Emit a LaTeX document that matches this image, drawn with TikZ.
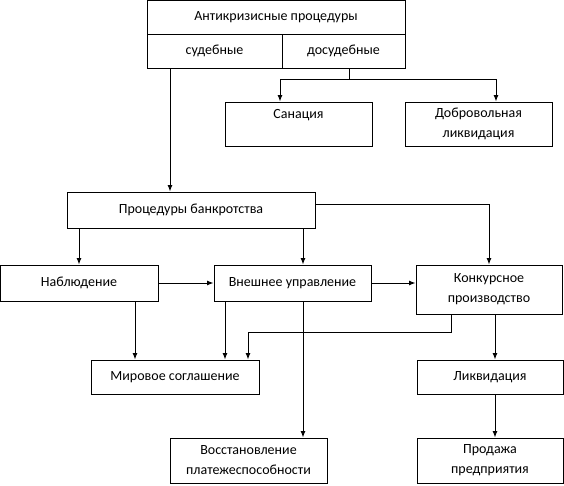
\documentclass[tikz,border=0pt]{standalone}
\usepackage{fontspec}
\setmainfont{Carlito}
\usetikzlibrary{arrows.meta}
\begin{document}
\begin{tikzpicture}[x=1pt,y=-1pt,line cap=rect,line join=miter]
  \tikzset{box/.style={draw,line width=1pt,rectangle,inner sep=0pt,align=center,font=\fontsize{14}{20}\selectfont},
    ln/.style={line width=1pt},
    arr/.style={line width=1pt,-{Latex[length=6.5pt,width=5pt]}}}
  \useasboundingbox (0,0) rectangle (564,485);
  \node[box,minimum width=258,minimum height=34] (title) at (276,17) {Антикризисные процедуры};
  \node[box,minimum width=135,minimum height=34] (sud) at (214.5,51) {судебные};
  \node[box,minimum width=123,minimum height=34] (dosud) at (343.5,51) {досудебные};
  \node[box,minimum width=147,minimum height=44,text depth=21pt] (sanac) at (298.5,124) {Санация};
  \node[box,minimum width=147,minimum height=44] (dobr) at (478.5,124) {Добровольная\\ликвидация};
  \node[box,minimum width=248,minimum height=36] (bankr) at (191,210) {Процедуры банкротства};
  \node[box,minimum width=158,minimum height=36] (nabl) at (79,283) {Наблюдение};
  \node[box,minimum width=157,minimum height=36] (vnesh) at (292.5,283) {Внешнее управление};
  \node[box,minimum width=146,minimum height=49] (konk) at (489,289.5) {Конкурсное\\производство};
  \node[box,minimum width=168,minimum height=34] (mir) at (175,377) {Мировое соглашение};
  \node[box,minimum width=146,minimum height=34] (likv) at (490,377) {Ликвидация};
  \node[box,minimum width=157,minimum height=45] (vosst) at (248.5,460.5) {Восстановление\\платежеспособности};
  \node[box,minimum width=146,minimum height=45] (prod) at (490,460.5) {Продажа\\предприятия};
  \coordinate (fork) at (349,79);
  \coordinate (kink) at (248,332);
  \draw[arr] (sud.south -| 170,0) -- (bankr.north -| 170,0);
  \draw[ln] (dosud.south -| fork) -- (fork);
  \draw[arr] (fork) -| (sanac.north -| 280,0);
  \draw[arr] (fork) -| (dobr.north -| 496,0);
  \draw[arr] (bankr.south -| nabl) -- (nabl.north);
  \draw[arr] (bankr.south -| 303,0) -- (vnesh.north -| 303,0);
  \draw[arr] (bankr.east |- 0,204) -| (konk.north);
  \draw[arr] (nabl.east) -- (vnesh.west);
  \draw[arr] (vnesh.east) -- (vnesh.east -| konk.west);
  \draw[arr] (nabl.south -| 135,0) -- (mir.north -| 135,0);
  \draw[arr] (vnesh.south -| 225,0) -- (mir.north -| 225,0);
  \draw[arr] (konk.south -| 451,0) |- (kink) -- (mir.north -| kink);
  \draw[arr] (vnesh.south -| 303,0) -- (vosst.north -| 303,0);
  \draw[arr] (konk.south -| 495,0) -- (likv.north -| 495,0);
  \draw[arr] (likv.south -| 495,0) -- (prod.north -| 495,0);
\end{tikzpicture}
\end{document}
